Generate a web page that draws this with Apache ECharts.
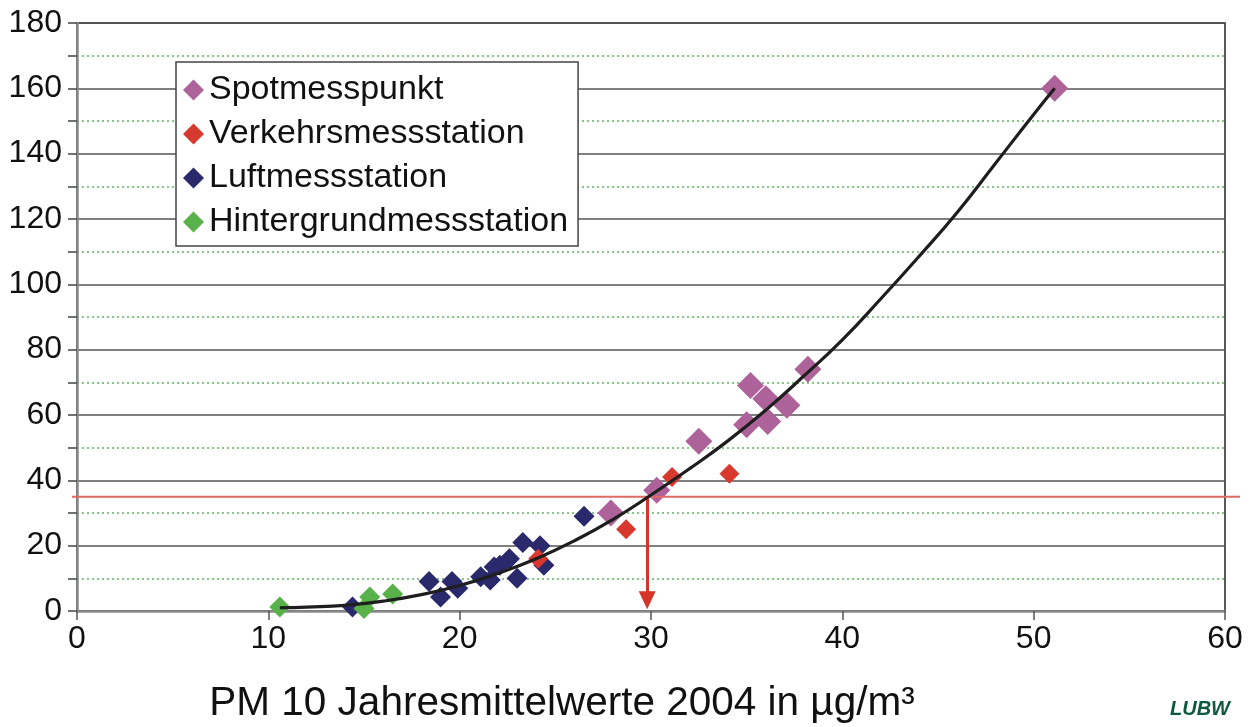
<!DOCTYPE html>
<html><head><meta charset="utf-8">
<script src="https://cdn.jsdelivr.net/npm/echarts@6/dist/echarts.min.js"></script>
<style>html,body{margin:0;padding:0;background:#fff}#c{width:1256px;height:727px}</style>
</head><body><div id="c"></div>
<script>
// Data
const spotX = [51.1, 38.2, 35.2, 36.0, 37.1, 32.5, 35.0, 36.1, 30.3, 27.9];
const spotY = [160, 74, 69, 65, 63, 52, 57, 58, 37, 30];
const verkehrX = [31.1, 34.1, 28.7, 24.1];
const verkehrY = [41, 42, 25, 16];
const luftX = [26.5, 23.3, 24.2, 24.4, 22.6, 22.1, 23.0, 21.1, 21.6, 21.8, 18.4, 19.6, 19.9, 19.0, 14.4];
const luftY = [29, 21, 20, 14, 16, 14, 10, 10.5, 9.5, 13.5, 9, 9, 7, 4.3, 1.2];
const hinterX = [10.6, 15.3, 15.0, 16.5];
const hinterY = [1.2, 4.3, 0.8, 5.2];
const trendX = [10.6, 12, 14, 16, 18, 20, 22, 24, 26, 28, 30, 32, 34, 36, 38, 40, 42, 44, 46, 48, 50, 51.1];
const trendY = [1, 1.2, 1.7, 3, 5, 7.8, 11.5, 16, 21.5, 28, 35.5, 43.5, 52, 61.5, 72, 83, 95.5, 108.5, 122, 137, 152, 160];
const limitY = 35;
const arrowX = 29.8;
const arrowEndY = 3.3;
const xTicks = [0, 60, 10];   // min, max, interval
const yTicks = [0, 180, 20];
const seriesNames = ['Spotmesspunkt', 'Verkehrsmessstation', 'Luftmessstation', 'Hintergrundmessstation'];
const colors = ['#ad6399', '#d8392f', '#2a296c', '#59b14a'];

const zip = (a, b) => a.map((v, i) => [v, b[i]]);
const FONT = 'Liberation Sans, Arial, sans-serif';

const chart = echarts.init(document.getElementById('c'), null, {renderer: 'canvas'});
const option = {
  animation: false,
  backgroundColor: '#fff',
  textStyle: {fontFamily: FONT},
  grid: {left: 77, top: 23, right: 31, bottom: 116, outerBoundsMode: 'none', containLabel: false,
    show: true, borderColor: '#222', borderWidth: 1.5, backgroundColor: 'transparent'},
  legend: {
    orient: 'vertical', left: 176, top: 62,
    data: seriesNames.map(n => ({name: n, icon: 'diamond'})),
    itemWidth: 21, itemHeight: 21, itemGap: 10,
    padding: [11, 10, 7, 7],
    borderColor: '#444', borderWidth: 1.5, backgroundColor: '#fff',
    textStyle: {fontSize: 34, color: '#111', fontFamily: FONT, lineHeight: 34}
  },
  xAxis: {
    type: 'value', min: xTicks[0], max: xTicks[1], interval: xTicks[2],
    name: 'PM 10 Jahresmittelwerte 2004 in µg/m³', nameLocation: 'middle', nameGap: 72,
    nameTextStyle: {fontSize: 40.5, color: '#111', fontFamily: FONT, padding: [0, 178, 0, 0]},
    axisLine: {lineStyle: {color: '#8a8a8a', width: 2.5}},
    axisTick: {show: true, length: 9, lineStyle: {color: '#555', width: 1.5}},
    axisLabel: {fontSize: 32, color: '#111', margin: 12, fontFamily: FONT},
    splitLine: {show: false}
  },
  yAxis: {
    type: 'value', min: yTicks[0], max: yTicks[1], interval: yTicks[2],
    axisLine: {show: true, lineStyle: {color: '#8a8a8a', width: 2.5}},
    axisTick: {show: true, length: 9, lineStyle: {color: '#444', width: 1.5}},
    minorTick: {show: true, splitNumber: 2, length: 9, lineStyle: {color: '#444', width: 1.5}},
    axisLabel: {fontSize: 32, color: '#111', margin: 15, fontFamily: FONT},
    splitLine: {show: true, lineStyle: {color: '#555', width: 1.5}},
    minorSplitLine: {show: true, lineStyle: {color: '#5fb35f', width: 1.5, type: [2, 3]}}
  },
  series: [
    {name: seriesNames[0], type: 'scatter', symbol: 'diamond', symbolSize: 27, data: zip(spotX, spotY), itemStyle: {color: colors[0], opacity: 1}, z: 3},
    {name: seriesNames[1], type: 'scatter', symbol: 'diamond', symbolSize: 20, data: zip(verkehrX, verkehrY), itemStyle: {color: colors[1], opacity: 1}, z: 4},
    {name: seriesNames[2], type: 'scatter', symbol: 'diamond', symbolSize: 21, data: zip(luftX, luftY), itemStyle: {color: colors[2], opacity: 1}, z: 3},
    {name: seriesNames[3], type: 'scatter', symbol: 'diamond', symbolSize: 21, data: zip(hinterX, hinterY), itemStyle: {color: colors[3], opacity: 1}, z: 3},
    {name: 'Trend', type: 'line', smooth: 0.5, showSymbol: false, symbol: 'none', data: zip(trendX, trendY),
      lineStyle: {color: '#1e1e1e', width: 3.2}, z: 5, silent: true,
      markLine: {
        silent: true, symbol: ['none', 'triangle'], symbolSize: [17, 18], animation: false,
        label: {show: false},
        lineStyle: {color: '#d6332b', width: 3, type: 'solid'},
        data: [[{coord: [arrowX, limitY]}, {coord: [arrowX, arrowEndY]}]]
      }
    }
  ]
};
chart.setOption(option);

// horizontal limit line at limitY, extending slightly beyond the plot like the reference
const p = chart.convertToPixel({gridIndex: 0}, [0, limitY]);
chart.setOption({
  graphic: [
    {type: 'line', z: 4, shape: {x1: p[0] - 5, y1: p[1], x2: 1240, y2: p[1]}, style: {stroke: '#e06a64', lineWidth: 2}},
    {type: 'text', left: 1170, top: 699, style: {text: 'LUBW', font: 'italic bold 20px ' + FONT, fill: '#0f5a3c'}}
  ]
});
</script></body></html>
